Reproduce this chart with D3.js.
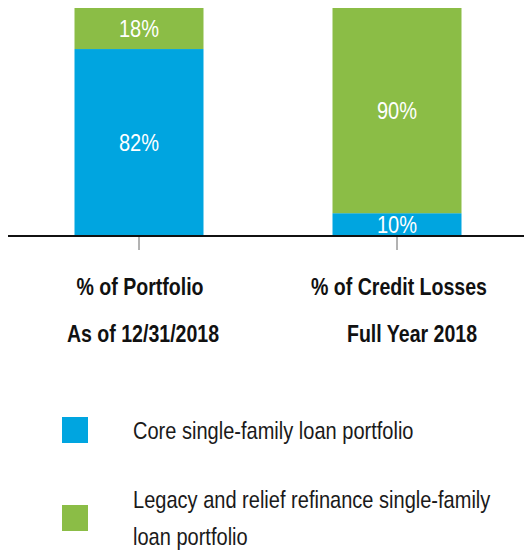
<!DOCTYPE html>
<html>
<head>
<meta charset="utf-8">
<script src="https://cdn.jsdelivr.net/npm/d3@7"></script>
<style>
  html, body { margin: 0; padding: 0; background: #ffffff; }
  svg { display: block; }
  text { font-family: "Liberation Sans", Arial, sans-serif; }
</style>
</head>
<body>
<svg id="chart" width="524" height="552"></svg>
<script>
// Categories and their two-line labels
const categories = ["% of Portfolio", "% of Credit Losses"];
const subLabels = ["As of 12/31/2018", "Full Year 2018"];

// Series shares (percent of each bar)
const coreValues = [82, 10];
const legacyValues = [18, 90];

const seriesNames = [
  "Core single-family loan portfolio",
  "Legacy and relief refinance single-family loan portfolio"
];
const legendLines = [
  ["Core single-family loan portfolio"],
  ["Legacy and relief refinance single-family", "loan portfolio"]
];
const colors = ["#00a5e0", "#8bbd46"];

// Condensed look: horizontally squeezed sans text
const SQUEEZE = 0.835;
const SQUEEZE_BOLD = 0.815;
function placeText(sel, xf, yf, bold) {
  return sel.attr("transform", (d, i) =>
    `translate(${xf(d, i)},${yf(d, i)}) scale(${bold ? SQUEEZE_BOLD : SQUEEZE},1)`);
}

const svg = d3.select("#chart");

const x = d3.scaleBand()
  .domain(categories)
  .range([10, 526])
  .paddingInner(0.5)
  .paddingOuter(0.25);

const y = d3.scaleLinear().domain([0, 100]).range([236, 8]);

const rows = categories.map((c, i) => ({ cat: c, core: coreValues[i], legacy: legacyValues[i] }));
const stacked = d3.stack().keys(["core", "legacy"])(rows);

const layers = svg.append("g").selectAll("g")
  .data(stacked)
  .join("g")
  .attr("fill", (d, i) => colors[i]);

layers.selectAll("rect")
  .data(d => d)
  .join("rect")
  .attr("x", d => x(d.data.cat))
  .attr("width", x.bandwidth())
  .attr("y", d => y(d[1]))
  .attr("height", d => y(d[0]) - y(d[1]));

placeText(
  layers.selectAll("text")
    .data(d => d.map(v => ({ v, key: d.key })))
    .join("text"),
  d => x(d.v.data.cat) + x.bandwidth() / 2,
  d => (y(d.v[0]) + y(d.v[1])) / 2,
  false)
  .attr("dy", "0.36em")
  .attr("text-anchor", "middle")
  .attr("fill", "#ffffff")
  .attr("font-size", 24)
  .text(d => d.v.data[d.key] + "%");

// Baseline axis with ticks under each bar
svg.append("line")
  .attr("x1", 8).attr("x2", 524)
  .attr("y1", y(0)).attr("y2", y(0))
  .attr("stroke", "#111111")
  .attr("stroke-width", 2);

svg.append("g").selectAll("line")
  .data(categories)
  .join("line")
  .attr("x1", d => x(d) + x.bandwidth() / 2)
  .attr("x2", d => x(d) + x.bandwidth() / 2)
  .attr("y1", y(0) + 1)
  .attr("y2", y(0) + 14)
  .attr("stroke", "#666666")
  .attr("stroke-width", 1);

// Category labels
const labelOffsets = [[1, 4], [2, 15]];
placeText(
  svg.append("g").selectAll("text").data(categories).join("text"),
  (d, i) => x(d) + x.bandwidth() / 2 + labelOffsets[i][0],
  () => 295,
  true)
  .attr("text-anchor", "middle")
  .attr("font-weight", "bold")
  .attr("font-size", 24)
  .attr("fill", "#111111")
  .text(d => d);

placeText(
  svg.append("g").selectAll("text").data(subLabels).join("text"),
  (d, i) => x(categories[i]) + x.bandwidth() / 2 + labelOffsets[i][1],
  () => 342,
  true)
  .attr("text-anchor", "middle")
  .attr("font-weight", "bold")
  .attr("font-size", 24)
  .attr("fill", "#111111")
  .text(d => d);

// Legend
const legendY = [430, 518];
const legend = svg.append("g").selectAll("g")
  .data(seriesNames)
  .join("g")
  .attr("transform", (d, i) => `translate(62, ${legendY[i]})`);

legend.append("rect")
  .attr("x", 0).attr("y", -13)
  .attr("width", 26).attr("height", 26)
  .attr("fill", (d, i) => colors[i]);

legend.each(function (d, i) {
  const lines = legendLines[i];
  const g = d3.select(this);
  const lh = 37;
  const start = -((lines.length - 1) * lh) / 2;
  placeText(
    g.selectAll("text").data(lines).join("text"),
    () => 71,
    (ln, j) => start + j * lh,
    false)
    .attr("dy", "0.36em")
    .attr("font-size", 24)
    .attr("fill", "#1a1a1a")
    .text(ln => ln);
});
</script>
</body>
</html>
